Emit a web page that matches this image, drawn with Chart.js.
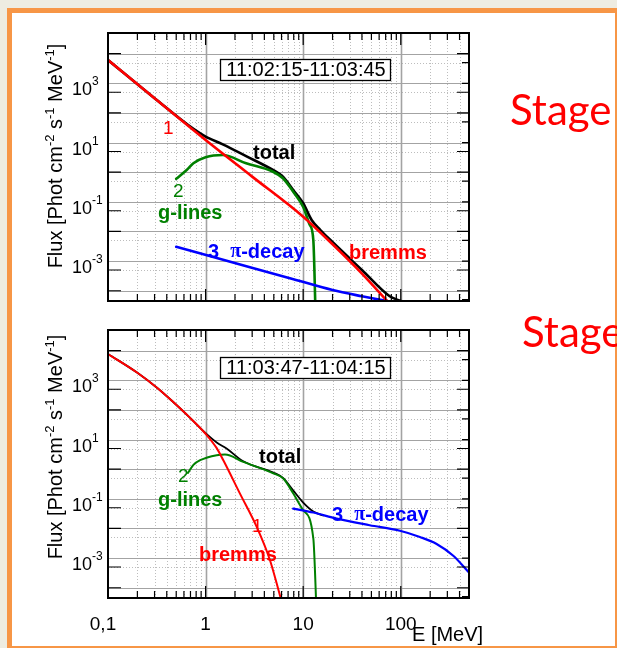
<!DOCTYPE html>
<html>
<head>
<meta charset="utf-8">
<title>Gamma spectra</title>
<script src="https://cdn.jsdelivr.net/npm/chart.js@4.4.0/dist/chart.umd.min.js"></script>
<style>
  body { margin: 0; width: 617px; height: 648px; overflow: hidden; background: #eeece1; position: relative; }
  .slide { position: absolute; left: 7px; top: 8px; width: 613px; height: 643px; box-sizing: border-box;
           border: 5px solid #f79646; background: #fff; }
  canvas { position: absolute; left: 0; }
  .stage { position: absolute; font-family: Lato, "Open Sans", sans-serif; font-size: 42px; line-height: 42px;
           color: #ff0000; white-space: nowrap; }
</style>
</head>
<body>
<div class="slide"></div>
<canvas id="stage1" width="617" height="320" style="top:0"></canvas>
<canvas id="stage2" width="617" height="328" style="top:320px"></canvas>
<div class="stage" style="left:510px; top:88px">Stage</div>
<div class="stage" style="left:522px; top:310px">Stage</div>

<script>
// axis limits and labels
const energyRange = [0.1, 500];
const fluxRange = [9e-5, 1e5];
const energyTickValues = [0.1, 1, 10, 100];
const energyTickLabels = ['0,1', '1', '10', '100'];
const fluxTickExponents = [3, 1, -1, -3];

// stage 1, 11:02:15-11:03:45
const brems1E = [0.1, 0.3, 1, 3, 10, 20, 40, 75];
const brems1F = [1.23e4, 630, 24.5, 1.42, 0.063, 7.4e-3, 7.6e-4, 8e-5];
const lines1E = [0.5, 0.64, 0.75, 1, 1.5, 2.6, 4.9, 6.2, 7.9, 10, 11.7, 12.7, 13.5];
const lines1F = [1.2, 2.38, 4.0, 6.4, 7.6, 4.0, 2.08, 1.25, 0.44, 0.134, 0.033, 0.0103, 1e-5];
const pion1E = [0.5, 2.85, 7.3, 20, 40, 66, 150];
const pion1F = [6.1e-3, 1.25e-3, 5.3e-4, 2.1e-4, 1.3e-4, 9.5e-5, 6e-5];
const total1E = [0.1, 0.3, 0.75, 1, 1.5, 2.6, 4.9, 6.2, 7.9, 10, 12.2, 15, 19, 40, 77, 100];
const total1F = [1.23e4, 630, 58, 32, 17.5, 7.0, 2.38, 1.41, 0.50, 0.179, 0.049, 0.0224, 0.0103, 1.0e-3, 1.3e-4, 9e-5];

// stage 2, 11:03:47-11:04:15
const brems2E = [0.1, 0.2, 0.32, 0.46, 0.69, 1, 1.3, 1.52, 2.25, 3.34, 4.57, 5.78, 6.3];
const brems2F = [1.55e4, 3600, 1100, 385, 110, 31.5, 10.3, 4.0, 0.30, 0.0226, 1.7e-3, 1.1e-4, 4e-5];
const lines2E = [0.66, 0.75, 0.88, 1.3, 1.58, 2.43, 4.94, 6.25, 7.92, 10, 12.7, 13.7];
const lines2F = [1.5, 2.8, 4.04, 5.97, 6.3, 3.54, 1.45, 0.97, 0.303, 0.083, 9.3e-3, 3e-5];
const pion2E = [7.9, 12.7, 22, 48, 98, 157, 233, 345, 500];
const pion2F = [0.094, 0.069, 0.043, 0.0257, 0.0167, 0.0103, 6.0e-3, 2.4e-3, 6.5e-4];
const total2E = [0.1, 0.2, 0.32, 0.46, 0.69, 1, 1.3, 1.64, 2.43, 4.94, 6.25, 7.92, 10, 12.7, 16];
const total2F = [1.55e4, 3600, 1100, 385, 110, 33, 16, 10, 3.7, 1.55, 1.0, 0.38, 0.15, 0.075, 0.055];

const RED = '#ff0000', GREEN = '#008000', BLUE = '#0000ff', BLACK = '#000000';
const REG = '19px Arial, "Liberation Sans", sans-serif';
const BOLD = 'bold 20px Arial, "Liberation Sans", sans-serif';
const PI = 'bold 20px "Liberation Serif", "Times New Roman", serif';

// grid and tick positions on the log axes
const energyMinor = [];
for (let k = -1; k <= 2; k++) {
    for (let m = 2; m <= 9; m++) {
        const v = m * Math.pow(10, k);
        if (v < energyRange[1]) energyMinor.push(v);
    }
}
const energyMajor = [1, 10, 100];
const fluxDecades = [], fluxDoubles = [];
for (let n = -4; n <= 4; n++) {
    fluxDecades.push(Math.pow(10, n));
    fluxDoubles.push(2 * Math.pow(10, n));
}

function toPoints(es, fs) {
    return es.map((e, i) => ({ x: e, y: fs[i] }));
}

function drawParts(ctx, parts, x, y) {
    for (const [text, font, dy] of parts) {
        ctx.font = font;
        ctx.fillText(text, x, y + (dy || 0));
        x += ctx.measureText(text).width;
    }
}

function partsWidth(ctx, parts) {
    let w = 0;
    for (const [text, font] of parts) {
        ctx.font = font;
        w += ctx.measureText(text).width;
    }
    return w;
}

const fluxTitle = [
    ['Flux [Phot cm', '20px Arial, "Liberation Sans", sans-serif'],
    ['-2', '13px Arial, "Liberation Sans", sans-serif', -8],
    [' s', '20px Arial, "Liberation Sans", sans-serif'],
    ['-1', '13px Arial, "Liberation Sans", sans-serif', -8],
    [' MeV', '20px Arial, "Liberation Sans", sans-serif'],
    ['-1', '13px Arial, "Liberation Sans", sans-serif', -8],
    [']', '20px Arial, "Liberation Sans", sans-serif']
];

// frame, grid, inward ticks, labels and notes for one spectrum panel
const spectrumFrame = {
    id: 'spectrumFrame',
    beforeDatasetsDraw(chart) {
        const { ctx, chartArea: a, scales: { x, y } } = chart;
        ctx.save();
        ctx.beginPath();
        ctx.rect(a.left, a.top, a.right - a.left, a.bottom - a.top);
        ctx.clip();

        const vline = v => { const p = Math.round(x.getPixelForValue(v)) + 0.5; ctx.moveTo(p, a.top); ctx.lineTo(p, a.bottom); };
        const hline = v => { const p = Math.round(y.getPixelForValue(v)) + 0.5; ctx.moveTo(a.left, p); ctx.lineTo(a.right, p); };

        ctx.strokeStyle = '#bdbdbd';
        ctx.lineWidth = 1;
        ctx.setLineDash([1, 2]);
        ctx.beginPath();
        energyMinor.forEach(vline);
        fluxDecades.forEach(hline);
        ctx.stroke();

        ctx.setLineDash([]);
        ctx.strokeStyle = '#a3a3a3';
        ctx.beginPath();
        fluxDoubles.forEach(hline);
        ctx.stroke();
        ctx.lineWidth = 1.6;
        ctx.beginPath();
        energyMajor.forEach(vline);
        ctx.stroke();
        ctx.restore();
    },
    afterDatasetsDraw(chart, args, opts) {
        const { ctx, chartArea: a, scales: { x, y } } = chart;
        ctx.save();

        // inward tick marks
        ctx.strokeStyle = BLACK;
        ctx.lineWidth = 1.2;
        ctx.beginPath();
        const xTick = (v, len) => {
            const p = x.getPixelForValue(v);
            ctx.moveTo(p, a.bottom); ctx.lineTo(p, a.bottom - len);
            ctx.moveTo(p, a.top); ctx.lineTo(p, a.top + len);
        };
        energyMinor.forEach(v => xTick(v, 7));
        energyMajor.forEach(v => xTick(v, 12));
        for (let n = -4; n <= 4; n++) {
            const long = n % 2 === 0 ? 2 * Math.pow(10, n) : Math.pow(10, n);
            const short = n % 2 === 0 ? Math.pow(10, n) : 2 * Math.pow(10, n);
            const pl = y.getPixelForValue(long), ps = y.getPixelForValue(short);
            ctx.moveTo(a.left, pl); ctx.lineTo(a.left + 13, pl);
            ctx.moveTo(a.right, pl); ctx.lineTo(a.right - 12, pl);
            ctx.moveTo(a.right, ps); ctx.lineTo(a.right - 7, ps);
        }
        ctx.stroke();

        // plot frame
        ctx.lineWidth = 2;
        ctx.strokeRect(a.left, a.top, a.right - a.left, a.bottom - a.top);

        // flux tick labels
        ctx.fillStyle = BLACK;
        ctx.textAlign = 'left';
        ctx.textBaseline = 'alphabetic';
        for (const e of fluxTickExponents) {
            const p = y.getPixelForValue(Math.pow(10, e));
            ctx.font = '18px Arial, "Liberation Sans", sans-serif';
            ctx.fillText('10', 72, p + 3);
            const w = ctx.measureText('10').width;
            ctx.font = '12px Arial, "Liberation Sans", sans-serif';
            ctx.fillText(String(e), 72 + w, p - 7);
        }

        // flux axis title
        ctx.save();
        ctx.translate(62, opts.titleCenter);
        ctx.rotate(-Math.PI / 2);
        drawParts(ctx, fluxTitle, -partsWidth(ctx, fluxTitle) / 2, 0);
        ctx.restore();

        // energy tick labels and title
        if (opts.energyLabels) {
            ctx.font = '19px Arial, "Liberation Sans", sans-serif';
            ctx.textAlign = 'center';
            energyTickValues.forEach((v, i) => {
                let p = x.getPixelForValue(v);
                if (i === 0) p -= 5; // edge label sits a little to the left
                ctx.fillText(energyTickLabels[i], p, a.bottom + 32);
            });
            ctx.textAlign = 'left';
            ctx.font = '20px Arial, "Liberation Sans", sans-serif';
            ctx.fillText('E [MeV]', 412, a.bottom + 43);
        }

        // time interval box
        const b = opts.box;
        ctx.fillStyle = '#ffffff';
        ctx.fillRect(b.x1, b.y1, b.x2 - b.x1, b.y2 - b.y1);
        ctx.lineWidth = 1.3;
        ctx.strokeRect(b.x1 + 0.5, b.y1 + 0.5, b.x2 - b.x1, b.y2 - b.y1);
        ctx.fillStyle = BLACK;
        ctx.textAlign = 'center';
        ctx.textBaseline = 'middle';
        ctx.font = '20px Arial, "Liberation Sans", sans-serif';
        ctx.fillText(b.text, (b.x1 + b.x2) / 2 + 1, (b.y1 + b.y2) / 2 + 1);

        // curve names
        ctx.textAlign = 'left';
        ctx.textBaseline = 'middle';
        for (const note of opts.notes) {
            ctx.fillStyle = note.color;
            drawParts(ctx, note.parts, note.x, note.y);
        }
        ctx.restore();
    }
};

function makeSpectrum(id, series, padding, frameOpts) {
    const datasets = series.map(s => ({
        data: toPoints(s.e, s.f),
        borderColor: s.color,
        borderWidth: s.width,
        pointRadius: 0,
        fill: false,
        cubicInterpolationMode: 'monotone',
        borderJoinStyle: 'round',
        borderCapStyle: 'round',
        clip: 0
    }));
    return new Chart(document.getElementById(id), {
        type: 'line',
        data: { datasets: datasets },
        options: {
            responsive: false,
            animation: false,
            events: [],
            layout: { padding: padding },
            plugins: { legend: { display: false }, tooltip: { enabled: false }, spectrumFrame: frameOpts },
            scales: {
                x: { type: 'logarithmic', min: energyRange[0], max: energyRange[1], display: false },
                y: { type: 'logarithmic', min: fluxRange[0], max: fluxRange[1], display: false }
            }
        },
        plugins: [spectrumFrame]
    });
}

makeSpectrum('stage1', [
    { e: brems1E, f: brems1F, color: RED, width: 2.6 },
    { e: pion1E, f: pion1F, color: BLUE, width: 2.6 },
    { e: lines1E, f: lines1F, color: GREEN, width: 2.6 },
    { e: total1E, f: total1F, color: BLACK, width: 2.6 }
], { left: 108, top: 33, right: 148, bottom: 19 }, {
    titleCenter: 156,
    energyLabels: false,
    box: { text: '11:02:15-11:03:45', x1: 220, y1: 59, x2: 390, y2: 80 },
    notes: [
        { color: RED, x: 163, y: 129, parts: [['1', REG]] },
        { color: BLACK, x: 253, y: 153, parts: [['total', BOLD]] },
        { color: GREEN, x: 173, y: 192, parts: [['2', REG]] },
        { color: GREEN, x: 158, y: 213, parts: [['g-lines', BOLD]] },
        { color: BLUE, x: 208, y: 252, parts: [['3', BOLD], ['  ', BOLD], ['\u03c0', PI], ['-decay', BOLD]] },
        { color: RED, x: 349, y: 253, parts: [['bremms', BOLD]] }
    ]
});

makeSpectrum('stage2', [
    { e: brems2E, f: brems2F, color: RED, width: 2 },
    { e: pion2E, f: pion2F, color: BLUE, width: 2.2 },
    { e: lines2E, f: lines2F, color: GREEN, width: 2 },
    { e: total2E, f: total2F, color: BLACK, width: 1.8 }
], { left: 108, top: 10, right: 148, bottom: 50 }, {
    titleCenter: 127,
    energyLabels: true,
    box: { text: '11:03:47-11:04:15', x1: 220, y1: 37, x2: 390, y2: 58 },
    notes: [
        { color: BLACK, x: 259, y: 137, parts: [['total', BOLD]] },
        { color: GREEN, x: 178, y: 157, parts: [['2', REG]] },
        { color: GREEN, x: 158, y: 180, parts: [['g-lines', BOLD]] },
        { color: RED, x: 252, y: 207, parts: [['1', REG]] },
        { color: RED, x: 199, y: 235, parts: [['bremms', BOLD]] },
        { color: BLUE, x: 332, y: 195, parts: [['3', BOLD], ['  ', BOLD], ['\u03c0', PI], ['-decay', BOLD]] }
    ]
});
</script>
</body>
</html>
